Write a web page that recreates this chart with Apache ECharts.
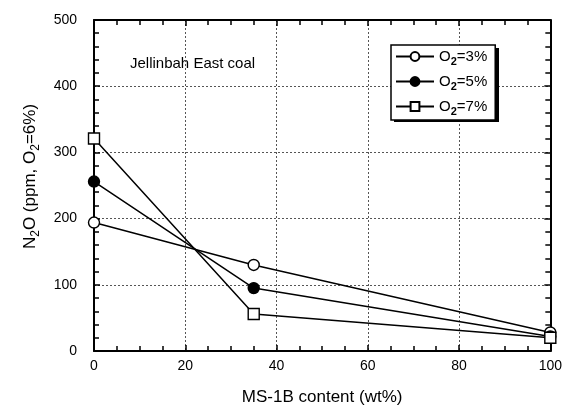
<!DOCTYPE html>
<html>
<head>
<meta charset="utf-8">
<script src="https://cdn.jsdelivr.net/npm/echarts@6/dist/echarts.min.js"></script>
<style>
html,body{margin:0;padding:0;background:#fff;}
#main{width:565px;height:411px;}
</style>
</head>
<body>
<div id="main"></div>
<script>
'use strict';

// MS-1B content (wt%)
var content = [0, 35, 100];
// N2O (ppm, O2=6%) per O2 level
var o2_3 = [194, 130, 28];
var o2_5 = [256, 95, 22];
var o2_7 = [321, 56, 20];
var seriesNames = ['O2=3%', 'O2=5%', 'O2=7%'];
var xTicks = [0, 20, 40, 60, 80, 100];
var yTicks = [0, 100, 200, 300, 400, 500];

var font = 'Liberation Sans, Arial, sans-serif';

var pairs = function(ys){
	return content.map(function(x, i){ return [x, ys[i]]; });
};

var mkSeries = function(name, ys, symbol, fill){
	return {
		name: name,
		type: 'line',
		data: pairs(ys),
		symbol: symbol,
		symbolSize: 11,
		showAllSymbol: true,
		lineStyle: {color: '#000', width: 1.5},
		itemStyle: {color: fill, borderColor: '#000', borderWidth: 1.4},
		z: 5
	};
};

var frameAxis = function(minorSplit){
	return {
		axisLine: {show: true, onZero: false, lineStyle: {color: '#000', width: 2}},
		axisTick: {show: true, inside: true, length: 6, lineStyle: {color: '#000', width: 1.5}},
		minorTick: {show: true, splitNumber: minorSplit, length: 5, lineStyle: {color: '#000', width: 1.5}},
		axisLabel: {show: false},
		splitLine: {show: false}
	};
};

var option = {
	animation: false,
	backgroundColor: '#fff',
	grid: {left: 94, right: 11, top: 20, bottom: 58},
	legend: {
		orient: 'vertical',
		left: 391,
		top: 45,
		itemWidth: 38,
		itemHeight: 11,
		itemGap: 7,
		padding: [4, 8, 3, 4],
		borderColor: '#000',
		borderWidth: 1.5,
		backgroundColor: '#fff',
		z: 10,
		data: seriesNames,
		formatter: function(n){
			return n.replace('O2', 'O{sub|2}');
		},
		textStyle: {
			fontFamily: font, fontSize: 15, color: '#000',
			rich: {sub: {fontFamily: font, fontSize: 11, fontWeight: 'bold', padding: [10, 0, 0, 0]}}
		}
	},
	xAxis: [
		Object.assign(frameAxis(4), {
			type: 'value', min: 0, max: 100, interval: 20,
			position: 'bottom',
			name: 'MS-1B content (wt%)',
			nameLocation: 'middle',
			nameGap: 38,
			nameTextStyle: {fontFamily: font, fontSize: 17, color: '#000'},
			axisLabel: {show: true, fontFamily: font, fontSize: 14, color: '#000', margin: 8,
				formatter: function(v){ return xTicks.indexOf(v) >= 0 ? String(v) : ''; }},
			splitLine: {show: true, lineStyle: {color: '#555', type: [2, 2], width: 1}}
		}),
		Object.assign(frameAxis(4), {
			type: 'value', min: 0, max: 100, interval: 20, position: 'top'
		})
	],
	yAxis: [
		Object.assign(frameAxis(5), {
			type: 'value', min: 0, max: 500, interval: 100,
			position: 'left',
			name: 'N{sub|2}O (ppm, O{sub|2}=6%)',
			nameLocation: 'middle',
			nameGap: 52,
			nameRotate: 90,
			nameTextStyle: {
				fontFamily: font, fontSize: 17, color: '#000', padding: [0, 0, 0, 18],
				rich: {sub: {fontFamily: font, fontSize: 12, padding: [12, 0, 0, 0]}}
			},
			axisLabel: {show: true, fontFamily: font, fontSize: 14, color: '#000', margin: 17,
				formatter: function(v){ return yTicks.indexOf(v) >= 0 ? String(v) : ''; }},
			splitLine: {show: true, lineStyle: {color: '#555', type: [2, 2], width: 1}}
		}),
		Object.assign(frameAxis(5), {
			type: 'value', min: 0, max: 500, interval: 100, position: 'right'
		})
	],
	graphic: [
		{
			type: 'text',
			left: 130,
			top: 56,
			style: {text: 'Jellinbah East coal', fontFamily: font, fontSize: 15, fill: '#000'}
		},
		{
			// drop shadow of the legend box
			type: 'rect',
			shape: {x: 394, y: 48, width: 105, height: 74},
			style: {fill: '#000'},
			z: 5
		}
	],
	series: [
		mkSeries(seriesNames[0], o2_3, 'circle', '#fff'),
		mkSeries(seriesNames[1], o2_5, 'circle', '#000'),
		mkSeries(seriesNames[2], o2_7, 'rect', '#fff')
	]
};

var myChart = echarts.init(document.getElementById('main'), null, {renderer: 'canvas'});
myChart.setOption(option);
</script>
</body>
</html>
